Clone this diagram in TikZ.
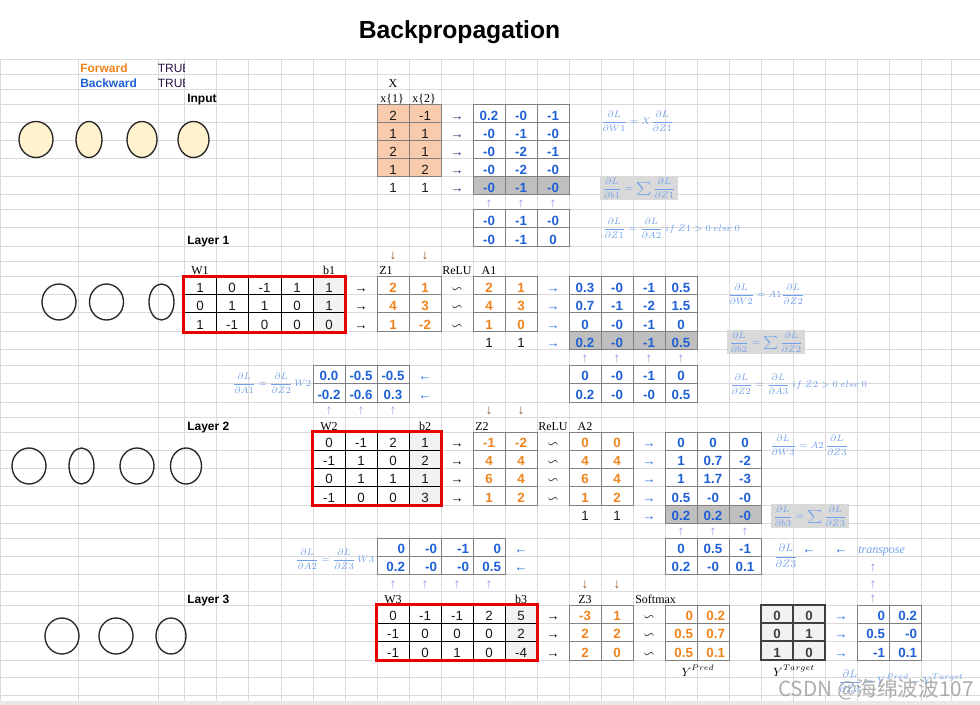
\documentclass[tikz,border=0pt]{standalone}
\usepackage{amsmath,amssymb}
\usepackage{fontspec}
\setmainfont{Liberation Sans}
\newfontfamily\labelserif{Liberation Serif}
\newfontfamily\markcjk{Noto Sans CJK SC}
\usepackage{tikz}
\usetikzlibrary{calc,positioning,shapes.geometric}
\definecolor{bpOrange}{RGB}{240,132,28}
\definecolor{bpBlue}{RGB}{30,96,214}
\definecolor{bpArrowBlue}{RGB}{45,115,225}
\definecolor{bpNavy}{RGB}{30,50,120}
\definecolor{bpUp}{RGB}{165,135,225}
\definecolor{bpDown}{RGB}{150,90,40}
\definecolor{bpFormula}{RGB}{112,160,235}
\definecolor{bpGrid}{RGB}{218,218,218}
\definecolor{bpBorder}{RGB}{128,128,128}
\definecolor{bpDark}{RGB}{64,64,64}
\definecolor{bpPeach}{RGB}{248,203,173}
\definecolor{bpCream}{RGB}{255,242,204}
\definecolor{bpSum}{RGB}{191,191,191}
\definecolor{bpSumBox}{RGB}{217,217,217}
\definecolor{bpBias}{RGB}{242,242,242}
\definecolor{bpRed}{RGB}{230,0,0}
\definecolor{bpText}{RGB}{25,25,25}
\definecolor{bpTrue}{RGB}{40,20,70}

% sheet geometry (pixels)
\def\colX{{0,78,158,184,216,248,281,313,345,377,409,441,473,505,537,569,601,633,665,697,729,761,793,825,857,889,921,951,980}}
\def\rowY{{60,75,90,105,123,141,159,177,195,210,228,247,262,277,295,313,332,350,365,383,402,417,432,450,468,486,505,523,538,556,574,591,605,623,641,660,677,695}}

% one cell: name, col, row, style, align, text
\newcommand{\gridcell}[6]{%
  \pgfmathsetmacro\xa{\colX[#2]}%
  \pgfmathsetmacro\xb{\colX[#2+1]}%
  \pgfmathsetmacro\ya{\rowY[#3]}%
  \pgfmathsetmacro\yb{\rowY[#3+1]}%
  \pgfmathsetmacro\cellw{(\xb-\xa)*0.75}%
  \pgfmathsetmacro\cellh{(\yb-\ya)*0.75-1.9}%
  \node[cell,text height=\cellh pt,#4] (#1) at ({(\xa+\xb)/2},{(\ya+\yb)/2})
    {\makebox[\cellw pt][#5]{#6\ifx r#5\hspace{3pt}\fi}};%
}
% a block of cells: name, col, row, style, align, rows
\newcommand{\celltable}[6]{%
  \foreach \rw [count=\i from 0] in {#6} {
    \foreach \val [count=\j from 0] in \rw {
      \pgfmathtruncatemacro\cidx{#2+\j}
      \pgfmathtruncatemacro\ridx{#3+\i}
      \gridcell{#1-\i-\j}{\cidx}{\ridx}{#4}{#5}{\val}
    }
  }%
}
% a sign sitting in a cell: name, col, row, style, text
\newcommand{\cellmark}[5]{%
  \pgfmathsetmacro\xa{\colX[#2]}%
  \pgfmathsetmacro\xb{\colX[#2+1]}%
  \pgfmathsetmacro\yb{\rowY[#3+1]}%
  \node[#4,anchor=base] (#1) at ({(\xa+\xb)/2},{\yb-2.5}) {#5};%
}

\begin{document}
\begin{tikzpicture}[x=0.75pt,y=-0.75pt,
    gridline/.style={bpGrid, line width=0.75pt},
    cell/.style={draw=bpBorder, line width=0.75pt, inner sep=0pt, text depth=1.9pt,
      font=\fontsize{10}{12}\selectfont, text=bpText},
    fwdval/.style={text=bpOrange, font=\bfseries\fontsize{10}{12}\selectfont},
    bwdval/.style={text=bpBlue, font=\bfseries\fontsize{10}{12}\selectfont},
    wcell/.style={draw=black},
    sumrow/.style={fill=bpSum},
    inputcell/.style={fill=bpPeach},
    tgtcell/.style={draw=bpDark, fill=bpBias, line width=1pt, text=bpDark,
      font=\bfseries\fontsize{10}{12}\selectfont},
    bare/.style={draw=none},
    redframe/.style={draw=bpRed, line width=1.6pt},
    neuron/.style={draw=black!85, line width=1pt, ellipse, inner sep=0pt, minimum height=27pt},
    glyph/.style={font=\fontsize{10}{12}\selectfont, inner sep=0pt},
    fwdarrow/.style={glyph, text=black},
    bwdarrow/.style={glyph, text=bpArrowBlue},
    uparrow/.style={glyph, text=bpUp},
    downarrow/.style={glyph, text=bpDown},
    lbl/.style={font=\labelserif\fontsize{9}{10}\selectfont, inner sep=0pt, anchor=base},
    layerlbl/.style={font=\bfseries\fontsize{9}{10}\selectfont, inner sep=0pt, anchor=base west},
    formula/.style={text=bpFormula, font=\fontsize{7}{8}\selectfont, inner sep=0.5pt, anchor=west},
    sumbox/.style={formula, fill=bpSumBox, inner sep=1.5pt},
  ]

    \useasboundingbox (0,0) rectangle (980,705);
    \fill[white] (0,0) rectangle (980,705);

    % sheet grid
    \foreach \k in {0,...,28} {
        \pgfmathsetmacro\gx{\colX[\k]}
        \draw[gridline] (\gx,60) -- (\gx,701);
    }
    \foreach \k in {0,...,37} {
        \pgfmathsetmacro\gy{\rowY[\k]}
        \draw[gridline] (0,\gy) -- (980,\gy);
    }
    \fill[gray!18] (0,701) rectangle (980,705);

    % title and switches
    \node[anchor=base, font=\bfseries\fontsize{18.5}{22}\selectfont] (title) at (459.5,39) {Backpropagation};
    \node[anchor=base west, text=bpOrange, font=\bfseries\fontsize{9}{10}\selectfont, inner sep=0pt] (fwd) at (80,73) {Forward};
    \node[anchor=base west, text=bpBlue, font=\bfseries\fontsize{9}{10}\selectfont, inner sep=0pt] (bwd) at (80,88) {Backward};
    \begin{scope}
        \clip (150,60) rectangle (184,90);
        \node[anchor=base west, text=bpTrue, font=\fontsize{9}{10}\selectfont, inner sep=0pt] (fwdflag) at (157.5,73) {TRUE};
        \node[anchor=base west, text=bpTrue, font=\fontsize{9}{10}\selectfont, inner sep=0pt] (bwdflag) at (157.5,88) {TRUE};
    \end{scope}

    % neurons
    \node[neuron, fill=bpCream, minimum width=25.5pt] (in1) at (36,139.5) {};
    \node[neuron, fill=bpCream, minimum width=19.5pt] (in2) at (89,139.5) {};
    \node[neuron, fill=bpCream, minimum width=22.5pt] (in3) at (142,139.5) {};
    \node[neuron, fill=bpCream, minimum width=23.25pt] (in4) at (193.5,139.5) {};
    \node[neuron, minimum width=25.5pt] (ha1) at (59,302) {};
    \node[neuron, minimum width=25.5pt] (ha2) at (106.5,302) {};
    \node[neuron, minimum width=18.75pt] (ha3) at (161.5,302) {};
    \node[neuron, minimum width=25.5pt] (hb1) at (29,466) {};
    \node[neuron, minimum width=18.75pt] (hb2) at (81.5,466) {};
    \node[neuron, minimum width=25.5pt] (hb3) at (137,466) {};
    \node[neuron, minimum width=23.25pt] (hb4) at (186,466) {};
    \node[neuron, minimum width=25.5pt] (out1) at (62,636) {};
    \node[neuron, minimum width=25.5pt] (out2) at (116,636) {};
    \node[neuron, minimum width=22.5pt] (out3) at (171,636) {};

    % Input
    \node[layerlbl] (inputlbl) at (187,103) {Input};
    \node[lbl] (xlbl) at (393,88) {X};
    \node[lbl, anchor=base west] (x1lbl) at (380,103) {x\{1\}};
    \node[lbl, anchor=base west] (x2lbl) at (412,103) {x\{2\}};
    \celltable{xin}{9}{3}{inputcell}{c}{{2,-1},{1,1},{2,1},{1,2}}
    \celltable{xone}{9}{7}{bare}{c}{{1,1}}
    \foreach \r in {3,...,7} {\cellmark{xto\r}{11}{\r}{fwdarrow, text=bpNavy}{→}}
    \celltable{dwa}{12}{3}{bwdval}{c}{{0.2,-0,-1},{-0,-1,-0},{-0,-2,-1},{-0,-2,-0}}
    \celltable{dba}{12}{7}{bwdval,sumrow}{c}{{-0,-1,-0}}
    \foreach \c in {12,13,14} {\cellmark{upa\c}{\c}{8}{uparrow}{↑}}
    \celltable{dza}{12}{9}{bwdval}{c}{{-0,-1,-0},{-0,-1,0}}
    \node[formula] (fwa) at (600,121) {$\displaystyle\frac{\partial L}{\partial W1}=X\frac{\partial L}{\partial Z1}$};
    \node[sumbox] (fba) at (600,188) {$\displaystyle\frac{\partial L}{\partial b1}=\sum\frac{\partial L}{\partial Z1}$};
    \node[formula] (fza) at (602,228) {$\displaystyle\frac{\partial L}{\partial Z1}=\frac{\partial L}{\partial A2}\ if\ Z1>0\ else\ 0$};

    % Layer 1
    \node[layerlbl] (layer1) at (187,245) {Layer 1};
    \foreach \c in {9,10} {\cellmark{dna\c}{\c}{11}{downarrow}{↓}}
    \node[lbl] (w1lbl) at (200,275) {W1};
    \node[lbl] (b1lbl) at (329,275) {b1};
    \node[lbl, anchor=base west] (z1lbl) at (379,275) {Z1};
    \node[lbl, anchor=base west] (relua) at (442,275) {ReLU};
    \node[lbl] (a1lbl) at (489,275) {A1};
    \fill[bpBias] (313,277) rectangle (345,332);
    \celltable{wa}{3}{13}{wcell}{c}{{1,0,-1,1,1},{0,1,1,0,1},{1,-1,0,0,0}}
    \draw[redframe] (wa-0-0.north west) rectangle (wa-2-4.south east);
    \foreach \r in {13,14,15} {\cellmark{wza\r}{8}{\r}{fwdarrow}{→}}
    \celltable{za}{9}{13}{fwdval}{c}{{2,1},{4,3},{1,-2}}
    \foreach \r in {13,14,15} {\cellmark{rla\r}{11}{\r}{fwdarrow}{$\backsim$}}
    \celltable{aa}{12}{13}{fwdval}{c}{{2,1},{4,3},{1,0}}
    \celltable{aone}{12}{16}{bare}{c}{{1,1}}
    \foreach \r in {13,...,16} {\cellmark{ato\r}{14}{\r}{bwdarrow}{→}}
    \celltable{dwb}{15}{13}{bwdval}{c}{{0.3,-0,-1,0.5},{0.7,-1,-2,1.5},{0,-0,-1,0}}
    \celltable{dbb}{15}{16}{bwdval,sumrow}{c}{{0.2,-0,-1,0.5}}
    \foreach \c in {15,...,18} {\cellmark{upb\c}{\c}{17}{uparrow}{↑}}
    \celltable{dzb}{15}{18}{bwdval}{c}{{0,-0,-1,0},{0.2,-0,-0,0.5}}
    \node[formula] (fwb) at (727,294) {$\displaystyle\frac{\partial L}{\partial W2}=A1\frac{\partial L}{\partial Z2}$};
    \node[sumbox] (fbb) at (727,342) {$\displaystyle\frac{\partial L}{\partial b2}=\sum\frac{\partial L}{\partial Z2}$};
    \node[formula] (fzb) at (729,384) {$\displaystyle\frac{\partial L}{\partial Z2}=\frac{\partial L}{\partial A3}\ if\ Z2>0\ else\ 0$};
    \celltable{daa}{7}{18}{bwdval}{c}{{0.0,-0.5,-0.5},{-0.2,-0.6,0.3}}
    \foreach \r in {18,19} {\cellmark{dla\r}{10}{\r}{bwdarrow}{←}}
    \node[formula, anchor=east] (fda) at (312,383) {$\displaystyle\frac{\partial L}{\partial A1}=\frac{\partial L}{\partial Z2}\,W2$};
    \foreach \c in {7,8,9} {\cellmark{upc\c}{\c}{20}{uparrow}{↑}}
    \foreach \c in {12,13} {\cellmark{dnb\c}{\c}{20}{downarrow}{↓}}

    % Layer 2
    \node[layerlbl] (layer2) at (187,430) {Layer 2};
    \node[lbl] (w2lbl) at (329,430) {W2};
    \node[lbl] (b2lbl) at (425,430) {b2};
    \node[lbl, anchor=base west] (z2lbl) at (475,430) {Z2};
    \node[lbl, anchor=base west] (relub) at (538,430) {ReLU};
    \node[lbl] (a2lbl) at (585,430) {A2};
    \fill[bpBias] (409,432) rectangle (441,505);
    \celltable{wb}{7}{22}{wcell}{c}{{0,-1,2,1},{-1,1,0,2},{0,1,1,1},{-1,0,0,3}}
    \draw[redframe] (wb-0-0.north west) rectangle (wb-3-3.south east);
    \foreach \r in {22,...,25} {\cellmark{wzb\r}{11}{\r}{fwdarrow}{→}}
    \celltable{zb}{12}{22}{fwdval}{c}{{-1,-2},{4,4},{6,4},{1,2}}
    \foreach \r in {22,...,25} {\cellmark{rlb\r}{14}{\r}{fwdarrow}{$\backsim$}}
    \celltable{ab}{15}{22}{fwdval}{c}{{0,0},{4,4},{6,4},{1,2}}
    \celltable{bone}{15}{26}{bare}{c}{{1,1}}
    \foreach \r in {22,...,26} {\cellmark{bto\r}{17}{\r}{bwdarrow}{→}}
    \celltable{dwc}{18}{22}{bwdval}{c}{{0,0,0},{1,0.7,-2},{1,1.7,-3},{0.5,-0,-0}}
    \celltable{dbc}{18}{26}{bwdval,sumrow}{c}{{0.2,0.2,-0}}
    \foreach \c in {18,19,20} {\cellmark{upd\c}{\c}{27}{uparrow}{↑}}
    \celltable{dzc}{18}{28}{bwdval}{c}{{0,0.5,-1},{0.2,-0,0.1}}
    \node[formula] (fwc) at (769,445) {$\displaystyle\frac{\partial L}{\partial W3}=A2\,\frac{\partial L}{\partial Z3}$};
    \node[sumbox] (fbc) at (771,516) {$\displaystyle\frac{\partial L}{\partial b3}=\sum\frac{\partial L}{\partial Z3}$};
    \celltable{dab}{9}{28}{bwdval}{r}{{0,-0,-1,0},{0.2,-0,-0,0.5}}
    \foreach \r in {28,29} {\cellmark{dlb\r}{13}{\r}{bwdarrow}{←}}
    \node[formula, anchor=east] (fdb) at (375,559) {$\displaystyle\frac{\partial L}{\partial A2}=\frac{\partial L}{\partial Z3}\,W3$};
    \foreach \c in {9,...,12} {\cellmark{upe\c}{\c}{30}{uparrow}{↑}}
    \foreach \c in {15,16} {\cellmark{dnc\c}{\c}{30}{downarrow}{↓}}

    % transpose back to layer 3
    \node[formula, font=\fontsize{8.5}{10}\selectfont] (dzt) at (773,556) {$\displaystyle\frac{\partial L}{\partial Z3}$};
    \cellmark{tla}{22}{28}{bwdarrow}{←}
    \cellmark{tlb}{23}{28}{bwdarrow}{←}
    \node[anchor=base west, text=bpFormula, inner sep=0pt,
          font=\labelserif\itshape\fontsize{9}{10}\selectfont] (transp) at (858,553) {transpose};
    \foreach \r in {29,30,31} {\cellmark{tup\r}{24}{\r}{uparrow}{↑}}

    % Layer 3
    \node[layerlbl] (layer3) at (187,603) {Layer 3};
    \node[lbl] (w3lbl) at (393,603) {W3};
    \node[lbl] (b3lbl) at (521,603) {b3};
    \node[lbl] (z3lbl) at (585,603) {Z3};
    \node[lbl, anchor=base west] (smaxlbl) at (635,603) {Softmax};
    \fill[bpBias] (505,605) rectangle (537,660);
    \celltable{wc}{9}{32}{wcell}{c}{{0,-1,-1,2,5},{-1,0,0,0,2},{-1,0,1,0,-4}}
    \draw[redframe] (wc-0-0.north west) rectangle (wc-2-4.south east);
    \foreach \r in {32,33,34} {\cellmark{wzc\r}{14}{\r}{fwdarrow}{→}}
    \celltable{zc}{15}{32}{fwdval}{c}{{-3,1},{2,2},{2,0}}
    \foreach \r in {32,33,34} {\cellmark{smx\r}{17}{\r}{fwdarrow}{$\backsim$}}
    \celltable{yp}{18}{32}{fwdval}{r}{{0,0.2},{0.5,0.7},{0.5,0.1}}
    \celltable{yt}{21}{32}{tgtcell}{c}{{0,0},{0,1},{1,0}}
    \foreach \r in {32,33,34} {\cellmark{yto\r}{23}{\r}{bwdarrow}{→}}
    \celltable{dzd}{24}{32}{bwdval}{r}{{0,0.2},{0.5,-0},{-1,0.1}}
    \node[anchor=base, inner sep=0pt, font=\fontsize{9}{10}\selectfont] (ypred) at (698,676) {$Y^{Pred}$};
    \node[anchor=base, inner sep=0pt, font=\fontsize{9}{10}\selectfont] (ytgt) at (794,676) {$Y^{Target}$};
    \node[formula, font=\fontsize{8}{9}\selectfont] (fdz) at (837,681) {$\displaystyle\frac{\partial L}{\partial Z3}=Y^{Pred}-Y^{Target}$};
    \node[anchor=base west, inner sep=0pt, text=gray!75, opacity=0.85,
          font=\markcjk\fontsize{15.5}{17}\selectfont] (csdn) at (778,696) {CSDN @海绵波波107};

\end{tikzpicture}
\end{document}
